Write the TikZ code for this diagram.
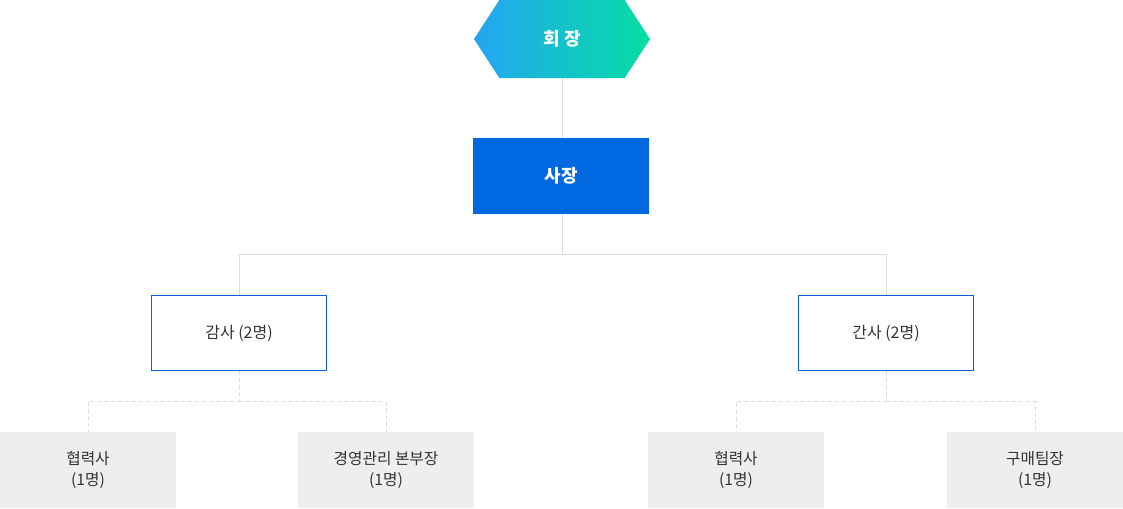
\documentclass[tikz,border=0pt]{standalone}
\usepackage{fontspec}
\setmainfont{Noto Sans CJK KR}
\usepackage{tikz}
\usetikzlibrary{shapes.symbols}

\definecolor{hexblue}{HTML}{24A5F2}
\definecolor{hexgreen}{HTML}{05DEA2}
\definecolor{ceoblue}{HTML}{0068E0}
\definecolor{frameblue}{HTML}{0A64D8}
\definecolor{linegray}{HTML}{DCDCDC}
\definecolor{boxgray}{HTML}{EEEEEE}
\definecolor{textgray}{HTML}{333333}

\begin{document}
\begin{tikzpicture}[
        x=0.75pt,
        y=-0.75pt,
        chair/.style={
            signal,
            signal to=west and east,
            signal pointer angle=114,
            minimum width=132pt,
            minimum height=58.5pt,
            inner sep=0pt,
            left color=hexblue,
            right color=hexgreen,
            text=white,
            font=\fontsize{13.5}{16}\selectfont\bfseries
        },
        ceo/.style={
            rectangle,
            fill=ceoblue,
            text=white,
            minimum width=132pt,
            minimum height=57pt,
            font=\fontsize{13.5}{16}\selectfont\bfseries
        },
        audit/.style={
            rectangle,
            draw=frameblue,
            line width=0.75pt,
            fill=white,
            text=textgray,
            minimum width=131pt,
            minimum height=56pt,
            font=\fontsize{12}{15}\selectfont
        },
        member/.style={
            rectangle,
            fill=boxgray,
            text=textgray,
            align=center,
            minimum width=132pt,
            minimum height=57pt,
            font=\fontsize{11.8}{16}\selectfont
        },
        link/.style={
            draw=linegray,
            line width=0.75pt
        },
        dashlink/.style={
            draw=linegray,
            line width=0.75pt,
            dash pattern=on 3pt off 2.25pt
        }
    ]

        \useasboundingbox (0,0) rectangle (1123,508);

        \node[chair] (chair) at (562,39) {회 장};
        \node[ceo] (ceo) at (561,176) {사장};
        \node[audit] (audit) at (239,333) {감사 (2명)};
        \node[audit] (secretary) at (886,333) {간사 (2명)};
        \node[member] (partnerA) at (88,470) {협력사\\(1명)};
        \node[member] (manager) at (386,470) {경영관리 본부장\\(1명)};
        \node[member] (partnerB) at (736,470) {협력사\\(1명)};
        \node[member] (purchase) at (1035,470) {구매팀장\\(1명)};

        \draw[link] (chair.south) -- (chair.south |- ceo.north);
        \draw[link] (chair.south |- ceo.south) -- (562,254) -| (audit.north);
        \draw[link] (562,254) -| (secretary.north);

        \draw[dashlink] (audit.south) -- (239,401) -| (partnerA.north);
        \draw[dashlink] (239,401) -| (manager.north);
        \draw[dashlink] (secretary.south) -- (886,401) -| (partnerB.north);
        \draw[dashlink] (886,401) -| (purchase.north);

    \end{tikzpicture}
\end{document}
